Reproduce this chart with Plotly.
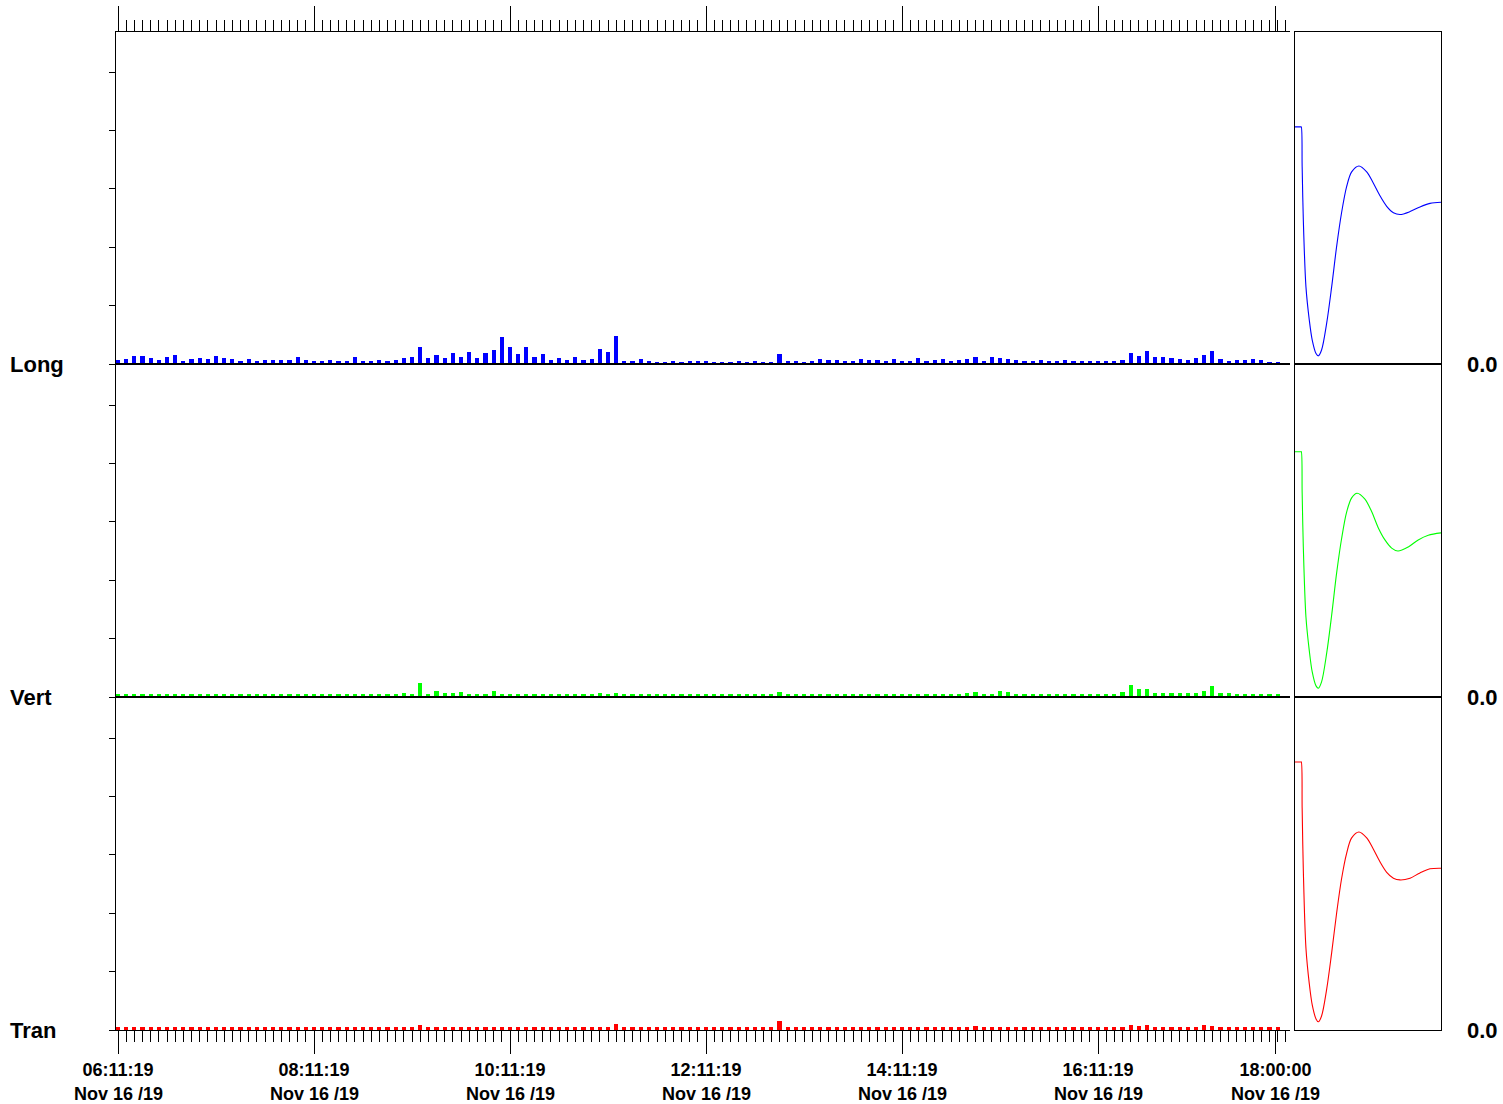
import pandas as pd
import plotly.graph_objects as go

W, H = 1503, 1104

# ---- data -------------------------------------------------------------
start = pd.Timestamp("2019-11-16 06:11:19")
times = pd.date_range(start, periods=143, freq="5min")

long_vals = [
    0.68, 0.86, 1.37, 1.37, 1.03, 0.68, 1.20, 1.54, 0.51, 0.86,
    1.03, 0.86, 1.37, 1.03, 0.86, 0.51, 0.86, 0.51, 0.68, 0.68,
    0.68, 0.68, 1.20, 0.68, 0.51, 0.51, 0.68, 0.51, 0.51, 1.20,
    0.51, 0.51, 0.68, 0.51, 0.68, 1.03, 1.20, 2.91, 1.03, 1.54,
    1.03, 1.88, 1.20, 2.05, 1.03, 1.88, 2.40, 4.62, 2.91, 1.71,
    2.91, 1.20, 1.71, 0.68, 1.03, 0.68, 1.20, 0.68, 0.86, 2.57,
    2.05, 4.79, 0.51, 0.51, 0.86, 0.51, 0.34, 0.34, 0.51, 0.34,
    0.51, 0.51, 0.51, 0.34, 0.34, 0.34, 0.51, 0.34, 0.51, 0.34,
    0.34, 1.71, 0.51, 0.51, 0.34, 0.51, 0.86, 0.68, 0.68, 0.51,
    0.51, 0.86, 0.68, 0.68, 0.51, 0.86, 0.51, 0.51, 1.03, 0.51,
    0.68, 0.86, 0.51, 0.68, 0.86, 1.20, 0.51, 1.20, 1.03, 0.86,
    0.68, 0.51, 0.51, 0.68, 0.51, 0.51, 0.68, 0.51, 0.51, 0.51,
    0.51, 0.51, 0.51, 0.68, 1.88, 1.37, 2.23, 1.20, 1.20, 1.03,
    0.86, 0.68, 1.03, 1.54, 2.23, 0.86, 0.51, 0.68, 0.68, 0.86,
    0.68, 0.34, 0.34,
]

vert_vals = [
    0.51, 0.43, 0.43, 0.43, 0.43, 0.43, 0.43, 0.43, 0.43, 0.43,
    0.43, 0.43, 0.43, 0.43, 0.43, 0.43, 0.43, 0.43, 0.43, 0.43,
    0.43, 0.43, 0.43, 0.51, 0.43, 0.43, 0.43, 0.43, 0.43, 0.43,
    0.51, 0.43, 0.43, 0.43, 0.51, 0.68, 0.43, 2.40, 0.51, 1.03,
    0.68, 0.68, 0.86, 0.43, 0.43, 0.51, 1.03, 0.43, 0.51, 0.43,
    0.43, 0.43, 0.43, 0.51, 0.43, 0.43, 0.43, 0.43, 0.51, 0.68,
    0.43, 0.68, 0.51, 0.43, 0.43, 0.43, 0.43, 0.43, 0.43, 0.43,
    0.43, 0.43, 0.43, 0.43, 0.43, 0.43, 0.43, 0.43, 0.51, 0.43,
    0.43, 0.86, 0.43, 0.43, 0.43, 0.43, 0.51, 0.51, 0.51, 0.43,
    0.43, 0.43, 0.43, 0.43, 0.43, 0.43, 0.43, 0.43, 0.51, 0.43,
    0.51, 0.43, 0.43, 0.51, 0.68, 0.86, 0.51, 0.43, 1.03, 0.86,
    0.51, 0.43, 0.43, 0.51, 0.43, 0.51, 0.43, 0.51, 0.43, 0.43,
    0.43, 0.43, 0.51, 0.86, 2.05, 1.37, 1.37, 0.68, 0.68, 0.68,
    0.68, 0.68, 0.68, 1.03, 1.88, 0.68, 0.68, 0.51, 0.51, 0.51,
    0.51, 0.43, 0.43,
]

tran_vals = [
    0.51, 0.43, 0.43, 0.43, 0.43, 0.43, 0.43, 0.43, 0.43, 0.43,
    0.43, 0.43, 0.43, 0.43, 0.43, 0.43, 0.43, 0.43, 0.43, 0.43,
    0.43, 0.43, 0.43, 0.43, 0.43, 0.43, 0.43, 0.43, 0.43, 0.51,
    0.43, 0.43, 0.43, 0.51, 0.51, 0.43, 0.43, 0.86, 0.43, 0.51,
    0.51, 0.51, 0.51, 0.43, 0.43, 0.43, 0.51, 0.43, 0.43, 0.43,
    0.43, 0.43, 0.43, 0.51, 0.43, 0.43, 0.43, 0.43, 0.43, 0.43,
    0.43, 1.03, 0.43, 0.43, 0.43, 0.43, 0.43, 0.43, 0.43, 0.43,
    0.43, 0.43, 0.43, 0.43, 0.43, 0.43, 0.43, 0.43, 0.43, 0.43,
    0.43, 1.54, 0.43, 0.43, 0.43, 0.43, 0.51, 0.51, 0.51, 0.43,
    0.43, 0.43, 0.43, 0.43, 0.43, 0.51, 0.43, 0.43, 0.51, 0.43,
    0.51, 0.43, 0.43, 0.43, 0.43, 0.68, 0.51, 0.43, 0.51, 0.51,
    0.43, 0.43, 0.43, 0.51, 0.43, 0.43, 0.43, 0.43, 0.43, 0.51,
    0.43, 0.43, 0.43, 0.51, 0.86, 0.68, 0.86, 0.51, 0.51, 0.51,
    0.51, 0.51, 0.51, 0.86, 0.68, 0.51, 0.43, 0.43, 0.51, 0.51,
    0.43, 0.43, 0.43,
]

# waveform panel (right): sample position vs amplitude
resp_x = [0, 4.0, 4.3, 4.9, 5.7, 7.5, 9.8, 11.8, 14.4, 16.0, 18.2, 21.7, 25.1, 28.5,
          31.9, 35.4, 38.8, 43.8, 49.1, 53.6, 58.2, 62.8, 67.4, 71.9, 78.8, 85.6,
          92.5, 100]
long_resp = [40.6, 40.6, 40.6, 33.8, 24.7, 13.2, 7.5, 4.1, 1.8, 1.4, 2.4, 7.0, 13.2,
             20.1, 25.9, 30.4, 32.9, 33.9, 32.9, 31.0, 28.8, 27.0, 25.9, 25.6, 26.1,
             26.9, 27.5, 27.7]
vert_resp_x = [0, 4.0, 4.3, 4.9, 5.7, 7.5, 9.8, 11.8, 14.4, 16.0, 18.2, 21.7, 25.1,
               28.5, 31.9, 35.4, 38.8, 42.5, 47.9, 52.4, 57.0, 61.6, 66.2, 70.5, 77.6,
               84.4, 91.3, 100]
vert_resp = [42.0, 42.0, 42.0, 35.0, 25.7, 13.7, 7.9, 4.3, 1.9, 1.5, 2.6, 7.5, 14.0,
             21.2, 27.1, 31.7, 34.1, 34.9, 33.9, 31.8, 29.0, 26.9, 25.5, 25.0, 25.7,
             26.9, 27.7, 28.1]
tran_resp = [45.9, 45.9, 45.9, 38.0, 27.4, 14.0, 7.9, 4.3, 1.9, 1.4, 2.4, 7.0, 13.2,
             20.0, 25.9, 30.3, 32.9, 33.9, 32.9, 31.0, 28.8, 27.0, 26.0, 25.7, 26.0,
             26.9, 27.6, 27.7]

major_ticks = ["2019-11-16 06:11:19", "2019-11-16 08:11:19", "2019-11-16 10:11:19",
               "2019-11-16 12:11:19", "2019-11-16 14:11:19", "2019-11-16 16:11:19",
               "2019-11-16 18:00:00"]
time_labels = ["06:11:19", "08:11:19", "10:11:19", "12:11:19", "14:11:19",
               "16:11:19", "18:00:00"]
date_label = "Nov 16 /19"

channel_names = ["Long", "Vert", "Tran"]
channel_colors = ["#0000ff", "#00ff00", "#ff0000"]
channel_bars = [long_vals, vert_vals, tran_vals]
channel_resp_x = [resp_x, vert_resp_x, resp_x]
channel_resp = [long_resp, vert_resp, tran_resp]

# ---- layout helpers -----------------------------------------------------
def fx(p):
    return p / W


def fy(p):
    return 1 - p / H


def ref(prefix, k):
    return prefix + ("" if k == 1 else str(k))


FONT = "Liberation Sans, Arial, Helvetica, sans-serif"
PX_PER_UNIT = 5.84                  # vertical scale shared by all bands
X_RANGE = ["2019-11-16 06:10:05.5", "2019-11-16 18:08:52"]
MAIN_DOM = [fx(116), fx(1290)]
WAVE_DOM = [fx(1295), fx(1441)]
band_px = [(32, 364), (364, 697), (697, 1030)]

fig = go.Figure()
layout = dict(
    width=W, height=H, autosize=False,
    margin=dict(l=0, r=0, t=0, b=0, pad=0, autoexpand=False),
    paper_bgcolor="white", plot_bgcolor="white",
    showlegend=False, bargap=0,
    font=dict(family=FONT, color="black"),
)

minor_ticks = dict(ticks="outside", ticklen=11, tickwidth=1, tickcolor="black",
                   tickmode="linear", tick0="2019-11-16 06:11:19", dtick=300000,
                   showgrid=False)

annotations = []
for i in range(3):
    n = i + 1
    xm, ym = n, n              # main band axes
    xw, yw = n + 3, n + 3      # waveform axes
    yr = n + 6                 # right-hand inward ticks of main band
    top, bot = band_px[i]
    dom = [fy(bot), fy(top)]
    y_top = (bot - top) / PX_PER_UNIT

    xa = dict(domain=MAIN_DOM, range=X_RANGE, type="date", anchor=ref("y", ym),
              showline=True, linecolor="black", linewidth=1, mirror=True,
              showgrid=False, zeroline=False, showticklabels=False, ticks="",
              automargin=False)
    if i == 0:
        xa.update(side="top", ticks="outside", ticklen=25, tickwidth=1,
                  tickcolor="black", tickmode="array", tickvals=major_ticks,
                  minor=minor_ticks)
    if i == 2:
        xa.update(side="bottom", ticks="outside", ticklen=23, tickwidth=1,
                  tickcolor="black", tickmode="array", tickvals=major_ticks,
                  ticktext=time_labels, showticklabels=True,
                  tickfont=dict(family=FONT, size=18, color="black", weight="bold"),
                  minor=minor_ticks)
    layout["xaxis" + ("" if xm == 1 else str(xm))] = xa

    layout["yaxis" + ("" if ym == 1 else str(ym))] = dict(
        domain=dom, range=[0, y_top], anchor=ref("x", xm),
        showline=True, linecolor="black", linewidth=1,
        ticks="outside", ticklen=6, tickwidth=1, tickcolor="black",
        tickmode="array", tickvals=[0, 10, 20, 30, 40, 50],
        showticklabels=False, showgrid=False, zeroline=False, automargin=False)

    layout["yaxis" + str(yr)] = dict(
        domain=dom, range=[0, y_top], anchor=ref("x", xm), overlaying=ref("y", ym),
        side="right", showline=True, linecolor="black", linewidth=1,
        ticks="inside", ticklen=7, tickwidth=1, tickcolor="black",
        tickmode="array", tickvals=[0, 10, 20, 30, 40, 50],
        showticklabels=False, showgrid=False, zeroline=False, automargin=False)

    layout["xaxis" + str(xw)] = dict(
        domain=WAVE_DOM, range=[0, 100], anchor=ref("y", yw),
        showline=True, linecolor="black", linewidth=1, mirror=True,
        ticks="", showticklabels=False, showgrid=False, zeroline=False,
        automargin=False)
    layout["yaxis" + str(yw)] = dict(
        domain=dom, range=[0, y_top], anchor=ref("x", xw),
        showline=True, linecolor="black", linewidth=1, mirror=True,
        ticks="", showticklabels=False, showgrid=False, zeroline=False,
        automargin=False)

    fig.add_trace(go.Bar(
        x=times, y=channel_bars[i], width=158000,
        marker=dict(color=channel_colors[i], line=dict(width=0)),
        xaxis=ref("x", xm), yaxis=ref("y", ym)))
    fig.add_trace(go.Scatter(
        x=channel_resp_x[i], y=channel_resp[i], mode="lines",
        line=dict(color=channel_colors[i], width=1.1, shape="spline", smoothing=0.9),
        xaxis=ref("x", xw), yaxis=ref("y", yw)))

    annotations.append(dict(
        text=channel_names[i], x=fx(8), xref="paper", xanchor="left",
        y=0, yref=ref("y", ym), yanchor="middle", showarrow=False,
        font=dict(family=FONT, size=22, color="black", weight="bold")))
    annotations.append(dict(
        text="0.0", x=fx(1465), xref="paper", xanchor="left",
        y=0, yref=ref("y", yw), yanchor="middle", showarrow=False,
        font=dict(family=FONT, size=22, color="black", weight="bold")))

for t in major_ticks:
    annotations.append(dict(
        text=date_label, x=t, xref="x3", xanchor="center",
        y=fy(1094), yref="paper", yanchor="middle", showarrow=False,
        font=dict(family=FONT, size=18, color="black", weight="bold")))

layout["annotations"] = annotations
fig.update_layout(**layout)
fig.write_html("out.html")
